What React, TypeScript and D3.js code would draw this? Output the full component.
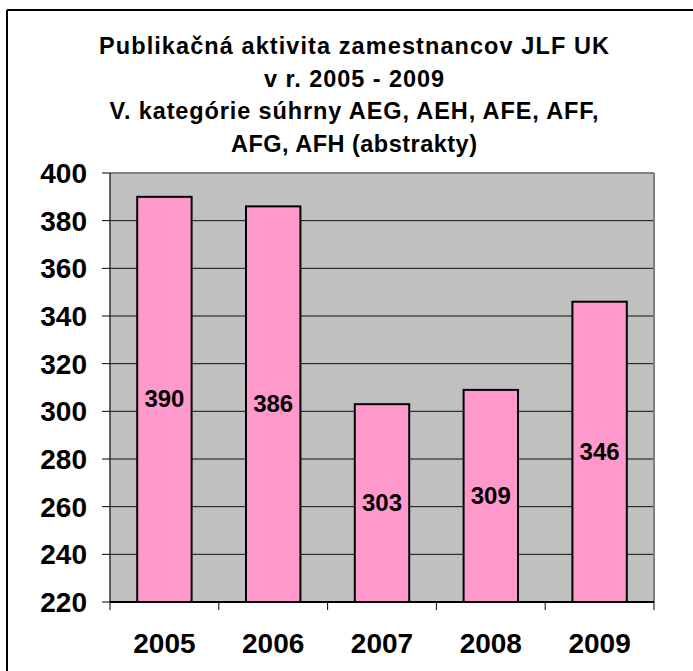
import React from 'react'
import * as d3 from 'd3'

const years = ['2005', '2006', '2007', '2008', '2009']
const counts = [390, 386, 303, 309, 346]
const yTicks = [220, 240, 260, 280, 300, 320, 340, 360, 380, 400]
const titleLines = [
  'Publikačná aktivita zamestnancov JLF UK',
  'v r. 2005 - 2009',
  'V. kategórie súhrny AEG, AEH, AFE, AFF,',
  'AFG, AFH (abstrakty)'
]
const titleWidths = [510, 180, 489, 246]

const W = 693
const H = 671
const plot = { left: 110, right: 654, top: 173, bottom: 602 }

export default function App() {
  const x = d3.scaleBand().domain(years).range([plot.left, plot.right]).paddingInner(0.5).paddingOuter(0.25)
  const y = d3.scaleLinear().domain([220, 400]).range([plot.bottom, plot.top])
  const step = x.step()
  const font = 'Arial, "Liberation Sans", sans-serif'

  return (
    <svg width={W} height={H} style={{ position: 'absolute', left: 0, top: 0 }} fontFamily={font}>
      <rect x={0} y={0} width={W} height={H} fill="#fff" />
      {/* outer chart frame (only top/left visible) */}
      <line x1={7} x2={W} y1={10} y2={10} stroke="#000" strokeWidth={2} />
      <line x1={7} x2={7} y1={10} y2={H} stroke="#000" strokeWidth={2} />

      {titleLines.map((t, i) => (
        <text key={i} x={354} y={54 + i * 32.5} textAnchor="middle" fontSize={23.5} fontWeight="bold"
          textLength={titleWidths[i]} lengthAdjust="spacing">{t}</text>
      ))}

      <rect x={plot.left} y={plot.top} width={plot.right - plot.left} height={plot.bottom - plot.top} fill="#c0c0c0" />
      {yTicks.filter(t => t > 220 && t < 400).map(t => (
        <line key={t} x1={plot.left} x2={plot.right} y1={y(t)} y2={y(t)} stroke="#111" strokeWidth={1} />
      ))}
      <line x1={plot.left} x2={plot.right} y1={plot.top} y2={plot.top} stroke="#808080" strokeWidth={2} />
      <line x1={plot.right} x2={plot.right} y1={plot.top} y2={plot.bottom} stroke="#808080" strokeWidth={2} />

      {years.map((yr, i) => (
        <rect key={yr} x={x(yr)} y={y(counts[i])} width={x.bandwidth()} height={y(220) - y(counts[i])}
          fill="#ff99cc" stroke="#000" strokeWidth={2} />
      ))}
      {years.map((yr, i) => (
        <text key={yr} x={x(yr)! + x.bandwidth() / 2} y={(y(counts[i]) + y(220)) / 2 + 8}
          textAnchor="middle" fontSize={24} fontWeight="bold">{counts[i]}</text>
      ))}

      {/* axes */}
      <line x1={plot.left} x2={plot.left} y1={plot.top} y2={plot.bottom} stroke="#333" strokeWidth={1.5} />
      <line x1={plot.left} x2={plot.right} y1={plot.bottom} y2={plot.bottom} stroke="#000" strokeWidth={2} />
      {yTicks.map(t => (
        <g key={t}>
          <line x1={plot.left - 8} x2={plot.left} y1={y(t)} y2={y(t)} stroke="#000" strokeWidth={1} />
          <text x={87} y={y(t) + 10} textAnchor="end" fontSize={28} fontWeight="bold">{t}</text>
        </g>
      ))}
      {d3.range(years.length + 1).map(i => (
        <line key={i} x1={plot.left + i * step} x2={plot.left + i * step} y1={plot.bottom} y2={plot.bottom + 8}
          stroke="#000" strokeWidth={1} />
      ))}
      {years.map(yr => (
        <text key={yr} x={x(yr)! + x.bandwidth() / 2} y={653} textAnchor="middle" fontSize={28} fontWeight="bold">{yr}</text>
      ))}
    </svg>
  )
}
